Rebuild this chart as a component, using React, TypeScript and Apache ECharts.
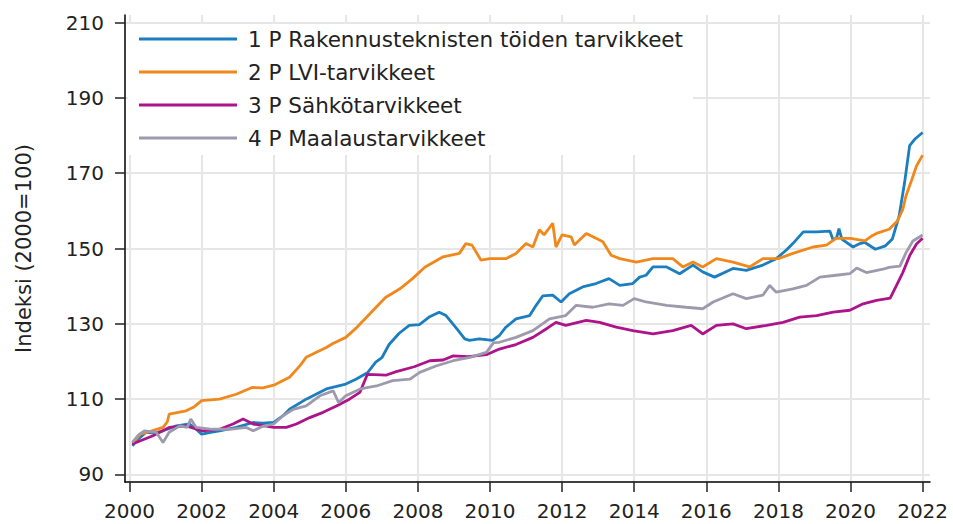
import React, { useEffect, useRef } from "react";
import * as echarts from "echarts";

const seriesNames = [
  "1 P Rakennusteknisten töiden tarvikkeet",
  "2 P LVI-tarvikkeet",
  "3 P Sähkötarvikkeet",
  "4 P Maalaustarvikkeet",
];
const seriesColors = ["#1a7ebf", "#f0881c", "#ad1489", "#9e9aae"];
const yearTicks = [2000, 2002, 2004, 2006, 2008, 2010, 2012, 2014, 2016, 2018, 2020, 2022];
const valueTicks = [90, 110, 130, 150, 170, 190, 210];

const rakennus: [number, number][] = [
  [2000.08, 97.6], [2000.2, 99.0], [2000.46, 101.2], [2000.7, 101.0], [2000.93, 101.6],
  [2001.3, 102.9], [2001.67, 103.4], [2001.85, 102.0], [2002.0, 100.7], [2002.25, 101.2],
  [2002.5, 101.6], [2002.96, 102.5], [2003.43, 103.8], [2003.7, 103.6], [2004.0, 103.8],
  [2004.26, 105.6], [2004.44, 107.3], [2004.9, 110.0], [2005.46, 112.7], [2006.0, 114.0],
  [2006.28, 115.3], [2006.6, 117.0], [2006.83, 119.8], [2007.0, 121.0], [2007.2, 124.5],
  [2007.48, 127.5], [2007.76, 129.6], [2008.04, 129.8], [2008.31, 131.8], [2008.59, 133.1],
  [2008.78, 132.2], [2009.06, 128.9], [2009.3, 126.0], [2009.43, 125.6], [2009.7, 126.0],
  [2010.07, 125.6], [2010.26, 126.9], [2010.44, 129.1], [2010.72, 131.3], [2011.1, 132.2],
  [2011.28, 134.9], [2011.46, 137.4], [2011.74, 137.6], [2011.97, 135.8], [2012.2, 138.0],
  [2012.57, 139.8], [2012.94, 140.7], [2013.3, 142.0], [2013.6, 140.2], [2013.96, 140.7],
  [2014.15, 142.4], [2014.33, 142.9], [2014.52, 145.1], [2014.9, 145.1], [2015.26, 143.3],
  [2015.63, 145.6], [2015.9, 143.8], [2016.23, 142.4], [2016.74, 144.7], [2017.11, 144.2],
  [2017.57, 145.6], [2017.94, 147.3], [2018.22, 149.6], [2018.4, 151.3], [2018.69, 154.4],
  [2019.06, 154.4], [2019.43, 154.6], [2019.52, 152.2], [2019.62, 153.0], [2019.68, 155.3],
  [2019.76, 152.5], [2020.07, 150.4], [2020.26, 151.3], [2020.4, 151.6], [2020.69, 149.8],
  [2020.97, 150.7], [2021.16, 152.5], [2021.35, 158.7], [2021.5, 167.5], [2021.64, 177.3],
  [2021.78, 179.0], [2022.0, 180.8],
];

const lvi: [number, number][] = [
  [2000.08, 98.1], [2000.3, 100.7], [2000.6, 101.5], [2000.93, 102.5], [2001.05, 104.0],
  [2001.1, 106.0], [2001.57, 106.9], [2001.8, 108.0], [2002.0, 109.6], [2002.5, 110.0],
  [2002.96, 111.3], [2003.4, 113.1], [2003.7, 113.0], [2004.0, 113.7], [2004.44, 115.8],
  [2004.73, 118.9], [2004.9, 121.1], [2005.17, 122.4], [2005.46, 123.7], [2005.63, 124.7],
  [2006.0, 126.4], [2006.3, 129.0], [2006.55, 131.5], [2006.8, 134.0], [2007.1, 137.0],
  [2007.5, 139.3], [2007.85, 142.0], [2008.2, 145.1], [2008.7, 147.8], [2009.15, 148.7],
  [2009.33, 151.3], [2009.5, 150.9], [2009.75, 146.9], [2010.0, 147.3], [2010.26, 147.3],
  [2010.44, 147.3], [2010.72, 148.7], [2011.0, 151.3], [2011.19, 150.4], [2011.37, 155.0],
  [2011.5, 153.6], [2011.74, 156.7], [2011.83, 150.4], [2012.0, 153.6], [2012.25, 153.1],
  [2012.34, 150.9], [2012.67, 154.0], [2012.94, 152.7], [2013.13, 151.8], [2013.36, 148.2],
  [2013.6, 147.3], [2014.06, 146.4], [2014.52, 147.3], [2015.07, 147.3], [2015.35, 145.1],
  [2015.63, 146.4], [2015.9, 145.1], [2016.28, 147.3], [2016.74, 146.4], [2017.2, 145.1],
  [2017.57, 147.3], [2018.0, 147.3], [2018.4, 148.7], [2018.96, 150.4], [2019.33, 150.9],
  [2019.6, 152.7], [2020.0, 152.7], [2020.4, 152.0], [2020.6, 153.4], [2020.72, 154.0],
  [2021.07, 155.1], [2021.3, 157.3], [2021.45, 160.4], [2021.54, 164.0], [2021.69, 168.0],
  [2021.83, 171.9], [2022.0, 174.8],
];

const sahko: [number, number][] = [
  [2000.08, 98.1], [2000.65, 100.3], [2001.1, 102.5], [2001.57, 102.9], [2002.0, 101.6],
  [2002.5, 102.0], [2002.87, 103.4], [2003.15, 104.7], [2003.43, 103.4], [2004.0, 102.5],
  [2004.35, 102.5], [2004.63, 103.4], [2005.0, 105.1], [2005.37, 106.5], [2005.74, 108.2],
  [2006.1, 110.0], [2006.39, 111.8], [2006.6, 116.6], [2007.13, 116.4], [2007.4, 117.3],
  [2007.9, 118.6], [2008.33, 120.2], [2008.7, 120.4], [2008.98, 121.5], [2009.4, 121.3],
  [2009.9, 121.8], [2010.26, 123.3], [2010.72, 124.5], [2011.19, 126.4], [2011.6, 128.9],
  [2011.83, 130.4], [2012.1, 129.6], [2012.67, 130.9], [2013.04, 130.4], [2013.5, 129.1],
  [2013.96, 128.2], [2014.52, 127.3], [2015.07, 128.2], [2015.58, 129.6], [2015.9, 127.3],
  [2016.28, 129.6], [2016.74, 130.0], [2017.11, 128.7], [2017.67, 129.6], [2018.13, 130.4],
  [2018.59, 131.8], [2019.06, 132.2], [2019.52, 133.1], [2019.98, 133.6], [2020.35, 135.3],
  [2020.72, 136.2], [2021.1, 136.8], [2021.28, 140.3], [2021.45, 143.6], [2021.64, 148.1],
  [2021.83, 151.2], [2022.0, 152.7],
];

const maalaus: [number, number][] = [
  [2000.08, 98.5], [2000.25, 100.5], [2000.42, 101.6], [2000.74, 101.2], [2000.93, 98.5],
  [2001.1, 101.2], [2001.4, 102.9], [2001.6, 102.5], [2001.7, 104.7], [2001.85, 102.5],
  [2002.3, 102.0], [2002.78, 102.0], [2003.24, 102.5], [2003.43, 101.6], [2003.7, 102.8],
  [2004.0, 103.4], [2004.26, 105.6], [2004.54, 107.3], [2004.9, 108.2], [2005.28, 110.9],
  [2005.65, 112.2], [2005.8, 109.1], [2006.0, 110.9], [2006.4, 112.7], [2006.85, 113.5],
  [2007.3, 114.9], [2007.78, 115.3], [2008.05, 117.1], [2008.5, 118.8], [2008.98, 120.2],
  [2009.44, 121.1], [2009.9, 122.4], [2010.1, 125.0], [2010.26, 125.1], [2010.72, 126.4],
  [2011.19, 128.2], [2011.65, 131.3], [2012.1, 132.2], [2012.39, 134.9], [2012.85, 134.4],
  [2013.3, 135.3], [2013.69, 134.9], [2014.0, 136.7], [2014.33, 135.8], [2014.9, 134.9],
  [2015.44, 134.4], [2015.9, 134.0], [2016.19, 135.8], [2016.74, 138.0], [2017.11, 136.7],
  [2017.57, 137.6], [2017.76, 140.2], [2017.94, 138.4], [2018.4, 139.3], [2018.78, 140.2],
  [2019.15, 142.4], [2019.6, 142.9], [2019.98, 143.3], [2020.17, 144.8], [2020.44, 143.6],
  [2020.9, 144.5], [2021.07, 145.0], [2021.37, 145.3], [2021.54, 148.9], [2021.73, 152.0],
  [2022.0, 153.6],
];

const allSeries = [rakennus, lvi, sahko, maalaus];
const FONT = "DejaVu Sans";

export default function App() {
  const ref = useRef<HTMLDivElement>(null);
  useEffect(() => {
    document.body.style.margin = "0";
    const chart = echarts.init(ref.current!, null, { renderer: "svg" });
    chart.setOption({
      animation: false,
      backgroundColor: "#ffffff",
      grid: { left: 125, top: 15, width: 805, height: 467 },
      legend: {
        orient: "vertical",
        left: 128,
        top: 24,
        padding: [4, 10, 6, 11],
        icon: "rect",
        itemWidth: 98,
        itemHeight: 3,
        itemGap: 11,
        backgroundColor: "#ffffff",
        data: seriesNames,
        textStyle: { fontFamily: FONT, fontSize: 21.5, color: "#222222", padding: [0, 0, 0, 6] },
      },
      xAxis: {
        type: "value",
        min: 1999.875,
        max: 2022.205,
        axisLine: { show: true, onZero: false, lineStyle: { color: "#000000", width: 1.5 } },
        axisTick: { show: true, length: 10, customValues: yearTicks, lineStyle: { color: "#222222", width: 1.5 } },
        axisLabel: {
          customValues: yearTicks,
          formatter: (v: number) => String(Math.round(v)),
          fontFamily: FONT,
          fontSize: 20,
          color: "#222222",
          margin: 19,
        },
        splitLine: { show: true, lineStyle: { color: "#e6e6e6", width: 2 } },
      },
      yAxis: {
        type: "value",
        min: 88,
        max: 212,
        name: "Indeksi (2000=100)",
        nameLocation: "middle",
        nameRotate: 90,
        nameGap: 91,
        nameTextStyle: { fontFamily: FONT, fontSize: 21, color: "#222222" },
        axisLine: { show: true, lineStyle: { color: "#000000", width: 1.5 } },
        axisTick: { show: true, length: 10, customValues: valueTicks, lineStyle: { color: "#222222", width: 1.5 } },
        axisLabel: {
          customValues: valueTicks,
          formatter: (v: number) => String(Math.round(v)),
          fontFamily: FONT,
          fontSize: 20,
          color: "#222222",
          margin: 21,
        },
        splitLine: { show: true, lineStyle: { color: "#e6e6e6", width: 2 } },
      },
      series: allSeries.map((d, i) => ({
        name: seriesNames[i],
        type: "line",
        data: d,
        symbol: "none",
        showSymbol: false,
        lineStyle: { color: seriesColors[i], width: 2.8 },
        itemStyle: { color: seriesColors[i] },
        emphasis: { disabled: true },
      })),
    });
    return () => chart.dispose();
  }, []);
  return <div ref={ref} style={{ width: 953, height: 524 }} />;
}
